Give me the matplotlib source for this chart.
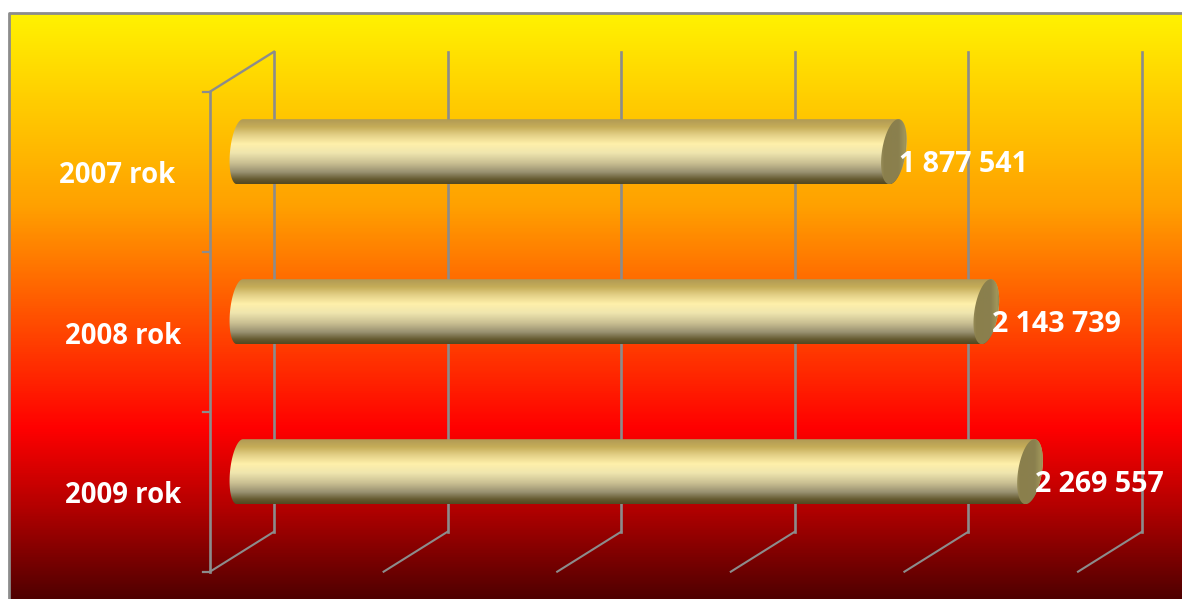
import numpy as np
import matplotlib
matplotlib.use("Agg")
import matplotlib.pyplot as plt
from matplotlib.colors import LinearSegmentedColormap
from matplotlib.patches import PathPatch
from matplotlib.path import Path

categories = ["2007 rok", "2008 rok", "2009 rok"]
values = [1877541, 2143739, 2269557]
value_labels = ["1 877 541", "2 143 739", "2 269 557"]
grid_values = [0, 500000, 1000000, 1500000, 2000000, 2500000]

W, H = 1182, 599
fig = plt.figure(figsize=(W / 100, H / 100), dpi=100, facecolor="white")
ax = fig.add_axes([0, 0, 1, 1])

# scale: the axes cover the whole figure; one value unit / one category step in pixels
PX_PER_VALUE = 173.6 / 500000
X0 = 242.0            # pixel of value 0 in the plane of the bars
Y0, STEP = 151.7, 160.0
xlim = (-X0 / PX_PER_VALUE, (W - X0) / PX_PER_VALUE)
ylim = ((H - Y0) / STEP, -Y0 / STEP)
ax.set_xlim(xlim); ax.set_ylim(ylim); ax.axis("off")
dx = lambda px: px / PX_PER_VALUE
dy = lambda px: px / STEP

# background
bg = LinearSegmentedColormap.from_list("bg", [
    (0.00, "#fff200"), (0.33, "#ffa000"), (0.71, "#ff0000"),
    (0.85, "#b00000"), (1.00, "#500000")])
grad = np.linspace(0, 1, 600)[:, None]
ax.imshow(grad, cmap=bg, aspect="auto", interpolation="bilinear", zorder=0,
          extent=(xlim[0] + dx(9), xlim[1], ylim[0], ylim[1] + dy(13)))
ax.set_xlim(xlim); ax.set_ylim(ylim)

GRAY = "#8c8c8c"
# frame (top and left only)
ax.plot([xlim[1], xlim[0] + dx(9), xlim[0] + dx(9)],
        [ylim[1] + dy(13), ylim[1] + dy(13), ylim[0]], color=GRAY, lw=2.0, zorder=1)

# depth of the 3-D box, pixels: bars sit midway between front and back planes
DEPTH_X, DEPTH_Y = 32.0, 20.0
front_top, front_bot = -0.5 + dy(DEPTH_Y), 2.5 + dy(DEPTH_Y)
n_cat = len(categories)


def fx(v, off):
    return v + dx(off)


for v in grid_values:
    # back wall
    ax.plot([fx(v, DEPTH_X)] * 2,
            [front_top - dy(DEPTH_Y * 2), front_bot - dy(DEPTH_Y * 2)],
            color=GRAY, lw=1.9, zorder=1)
    # floor
    ax.plot([fx(v, -DEPTH_X), fx(v, DEPTH_X)],
            [front_bot, front_bot - dy(DEPTH_Y * 2)], color=GRAY, lw=1.5, zorder=1)

# left wall and front axis
ax.plot([fx(0, -DEPTH_X)] * 2, [front_top, front_bot], color=GRAY, lw=1.9, zorder=1)
ax.plot([fx(0, -DEPTH_X), fx(0, DEPTH_X)],
        [front_top, front_top - dy(DEPTH_Y * 2)], color=GRAY, lw=1.7, zorder=1)
for i in range(n_cat + 1):
    y = i - 0.5 + dy(DEPTH_Y)
    ax.plot([fx(0, -DEPTH_X - 7), fx(0, -DEPTH_X)], [y, y], color=GRAY, lw=1.6, zorder=1)

# cylinders
body = LinearSegmentedColormap.from_list("body", [
    (0.00, "#b09a55"), (0.12, "#c6ad58"), (0.24, "#e2cf85"), (0.38, "#fff0aa"),
    (0.52, "#efe5ae"), (0.68, "#c9bf92"), (0.82, "#989070"), (0.93, "#655a30"), (1.00, "#524820")])
cap = LinearSegmentedColormap.from_list("cap", [
    (0.0, "#a09660"), (0.2, "#8a7f4c"), (0.65, "#8a804e"), (0.85, "#a0965a"), (1.0, "#7f7540")])
HB = 32.5
A, SHEAR = 12.0, 4.5
t = np.linspace(0, 2 * np.pi, 121)


def ell(v, i, a, shear, tt):
    return (v + dx(a) * np.cos(tt) + dx(shear) * (-np.sin(tt)),
            i + dy(HB) * np.sin(tt))


for i, v in enumerate(values):
    # body outline: left half-ellipse of the start, then right side of the end
    tl = np.linspace(np.pi / 2, 3 * np.pi / 2, 60)
    lx, ly = ell(dx(-2), i, 10.0, 3.0, tl)
    tr = np.linspace(-np.pi / 2, np.pi / 2, 60)
    rx, ry = ell(v, i, 12.0, SHEAR, tr)
    xs = np.r_[lx, rx]; ys = np.r_[ly, ry]
    patch = PathPatch(Path(np.c_[xs, ys]), fc="none", ec="none", zorder=3)
    ax.add_patch(patch)
    im = ax.imshow(np.linspace(0, 1, 200)[:, None], cmap=body, aspect="auto", zorder=3,
                   interpolation="bilinear",
                   extent=(dx(-20), v + dx(20), i + dy(HB), i - dy(HB)))
    im.set_clip_path(patch)
    # end cap
    cx, cy = ell(v, i, A, SHEAR, t)
    cp = PathPatch(Path(np.c_[cx, cy]), fc="none", ec="none", zorder=4)
    ax.add_patch(cp)
    im2 = ax.imshow(np.linspace(0, 1, 60)[None, :], cmap=cap, aspect="auto", zorder=4,
                    interpolation="bilinear",
                    extent=(v - dx(A + 4), v + dx(A + 4), i + dy(HB), i - dy(HB)))
    im2.set_clip_path(cp)
ax.set_xlim(xlim); ax.set_ylim(ylim)

FONT = ["Open Sans", "DejaVu Sans"]
label_offsets = [(117, 175.5), (123, 336.5), (123, 495.5)]
for i, (c, (xp, yp)) in enumerate(zip(categories, label_offsets)):
    ax.text(xlim[0] + dx(xp), ylim[1] + dy(yp), c, color="white", fontsize=19.8,
            fontweight="bold", family=FONT, ha="center", va="center", zorder=6)
for i, (v, s) in enumerate(zip(values, value_labels)):
    ax.text(v + dx(5.5), i + dy(12.5), s, color="white", fontsize=20.6,
            fontweight="bold", family=FONT, ha="left", va="center", zorder=6)

fig.savefig("out.png", dpi=100)
